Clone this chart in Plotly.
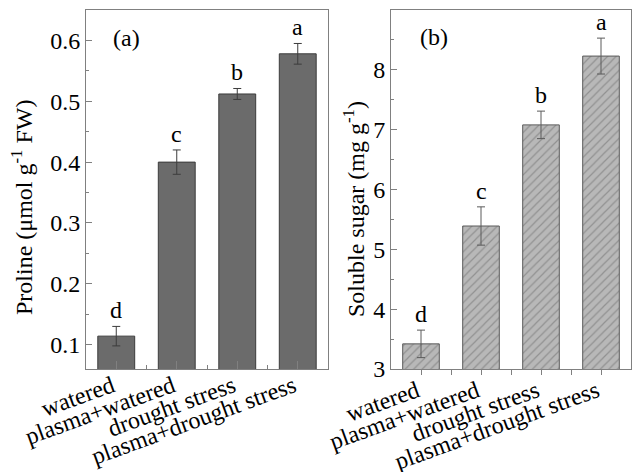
import plotly.graph_objects as go

categories = ["watered", "plasma+watered", "drought stress", "plasma+drought stress"]
proline = [0.114, 0.400, 0.512, 0.578]
proline_err = [0.016, 0.020, 0.009, 0.017]
proline_letters = ["d", "c", "b", "a"]
sugar = [3.42, 5.39, 7.08, 8.23]
sugar_err = [0.23, 0.32, 0.23, 0.30]
sugar_letters = ["d", "c", "b", "a"]
xpos = [0, 1, 2, 3]

FONT = "Liberation Serif, Times New Roman, serif"
FRAME = "#808080"

W, H = 633, 472
ml, mr, mt, mb = 86, 2, 10, 103
pw, ph = W - ml - mr, H - mt - mb


def px(xp):
    return (xp - ml) / pw


def py(yp):
    return (H - mb - yp) / ph


fig = go.Figure()
fig.add_trace(go.Bar(
    x=xpos, y=proline, xaxis="x", yaxis="y",
    marker=dict(color="#6b6b6b", line=dict(color="#3c3c3c", width=1)),
    error_y=dict(type="data", array=proline_err, color="#3c3c3c", thickness=1, width=4),
    showlegend=False,
))
fig.add_trace(go.Bar(
    x=xpos, y=sugar, xaxis="x2", yaxis="y2",
    marker=dict(color="#b8b8b8", line=dict(color="#5a5a5a", width=1),
                pattern=dict(shape="/", fgcolor="#6a6a6a", bgcolor="#b8b8b8", size=6, solidity=0.2)),
    error_y=dict(type="data", array=sugar_err, color="#5a5a5a", thickness=1, width=4),
    showlegend=False,
))

lfont = dict(family=FONT, size=24, color="black")
for i, (v, e, l) in enumerate(zip(proline, proline_err, proline_letters)):
    fig.add_annotation(x=xpos[i], y=v + e, xref="x", yref="y", text=l, showarrow=False,
                       xanchor="center", yanchor="bottom", yshift=1, font=lfont)
for i, (v, e, l) in enumerate(zip(sugar, sugar_err, sugar_letters)):
    fig.add_annotation(x=xpos[i], y=v + e, xref="x2", yref="y2", text=l, showarrow=False,
                       xanchor="center", yanchor="bottom", yshift=1, font=lfont)

fig.add_annotation(x=px(126), y=py(38), xref="paper", yref="paper", text="(a)", showarrow=False,
                   xanchor="center", yanchor="middle", font=lfont)
fig.add_annotation(x=px(434), y=py(37), xref="paper", yref="paper", text="(b)", showarrow=False,
                   xanchor="center", yanchor="middle", font=lfont)

fig.add_annotation(x=px(22), y=py(207), xref="paper", yref="paper",
                   text="Proline (μmol g<sup>-1</sup> FW)", textangle=-90, showarrow=False,
                   xanchor="center", yanchor="middle", font=lfont)
fig.add_annotation(x=px(354), y=py(209), xref="paper", yref="paper",
                   text="Soluble sugar (mg g<sup>-1</sup>)", textangle=-90, showarrow=False,
                   xanchor="center", yanchor="middle", font=lfont)

tickfont = dict(family=FONT, size=24, color="black")
common_x = dict(range=[-0.5, 3.5], tickvals=xpos, ticktext=categories, tickangle=-20,
                ticklabelstandoff=-7, ticklabelshift=-4,
                showline=True, linecolor=FRAME, linewidth=1, mirror=True, automargin=False,
                tickcolor=FRAME, tickfont=tickfont, showgrid=False, zeroline=False)
fig.update_layout(
    width=W, height=H, margin=dict(l=ml, r=mr, t=mt, b=mb, autoexpand=False),
    paper_bgcolor="white", plot_bgcolor="white", bargap=0.39,
    font=dict(family=FONT, color="black"),
    xaxis=dict(domain=[0, 242 / pw], ticks="inside", ticklen=8,
               minor=dict(tickvals=[0.5, 1.5, 2.5], ticks="inside", ticklen=4, tickcolor=FRAME),
               **common_x),
    xaxis2=dict(domain=[px(391), 1.0], anchor="y2", ticks="outside", ticklen=5,
                minor=dict(tickvals=[0.5, 1.5, 2.5], ticks="outside", ticklen=5, tickcolor=FRAME),
                **common_x),
    yaxis=dict(range=[0.06, 0.65], tickvals=[0.1, 0.2, 0.3, 0.4, 0.5, 0.6],
               ticks="inside", ticklen=6, tickcolor=FRAME, automargin=False,
               minor=dict(tickvals=[0.15, 0.25, 0.35, 0.45, 0.55], ticks="inside", ticklen=3, tickcolor=FRAME),
               showline=True, linecolor=FRAME, linewidth=1, mirror=True,
               tickfont=tickfont, showgrid=False, zeroline=False, anchor="x"),
    yaxis2=dict(range=[3, 9], tickvals=[3, 4, 5, 6, 7, 8, 9],
                ticks="inside", ticklen=6, tickcolor=FRAME, automargin=False,
                minor=dict(tickvals=[3.5, 4.5, 5.5, 6.5, 7.5, 8.5], ticks="inside", ticklen=3, tickcolor=FRAME),
                showline=True, linecolor=FRAME, linewidth=1, mirror=True,
                tickfont=tickfont, showgrid=False, zeroline=False, anchor="x2"),
)

fig.write_html("out.html", config={"displayModeBar": False},
               post_script="document.body.style.margin='0px';")
